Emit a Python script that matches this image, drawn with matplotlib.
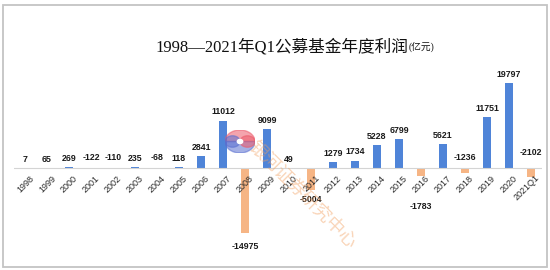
import matplotlib
matplotlib.use("Agg")
import matplotlib.pyplot as plt
from matplotlib.patches import Rectangle, Wedge, Circle

# ---- data ----
categories = ["1998", "1999", "2000", "2001", "2002", "2003", "2004", "2005",
              "2006", "2007", "2008", "2009", "2010", "2011", "2012", "2013",
              "2014", "2015", "2016", "2017", "2018", "2019", "2020", "2021Q1"]
profits = [7, 65, 269, -122, -110, 235, -68, 118,
           2841, 11012, -14975, 9099, 49, -5004, 1279, 1734,
           5228, 6799, -1783, 5621, -1236, 11751, 19797, -2102]
title_main = "1998—2021年Q1公募基金年度利润"
title_unit = "(亿元)"
watermark = "银河证券研究中心"

# ---- styling ----
pos_color = "#4f84d8"
neg_color = "#f6b585"
# label placement for negative bars: offset (points) below the bar end; others go above baseline
below_offsets = {"2008": 7, "2011": 4, "2016": 19}
above_offsets = {"2021Q1": 8}

plt.rcParams["font.family"] = ["Liberation Sans", "Noto Sans CJK SC", "DejaVu Sans"]

W, H = 550, 270
fig = plt.figure(figsize=(W / 100, H / 100), dpi=100)
fig.patch.set_facecolor("white")

# frame
fig.patches.append(Rectangle((3 / W, 3 / H), 544 / W, 262 / H, transform=fig.transFigure,
                             fill=False, edgecolor="#c4c4c4", lw=1.3))

# axes: baseline at 168 px from top, 0.00431 px per unit
left_px, right_px = 14, 542
top_px, bot_px = 72, 262
base_px, scale = 168, 0.00431
ax = fig.add_axes([left_px / W, 1 - bot_px / H, (right_px - left_px) / W, (bot_px - top_px) / H])
ax.set_xlim(-0.5, len(categories) - 0.5)
ax.set_ylim(-(bot_px - base_px) / scale, (base_px - top_px) / scale)
ax.axis("off")

x = list(range(len(categories)))
colors = [pos_color if v >= 0 else neg_color for v in profits]
ax.bar(x, profits, width=0.35, color=colors, zorder=2)
ax.axhline(0, color="#d4d4d4", lw=0.8, zorder=3)

for i, (c, v) in enumerate(zip(categories, profits)):
    lab = f"{v}"
    kw = dict(textcoords="offset points", ha="center", fontsize=6.3,
              fontweight="bold", color="#1a1a1a", zorder=4)
    if v >= 0:
        ax.annotate(lab, (i, v), xytext=(0, 3), va="bottom", **kw)
    elif c in below_offsets:
        ax.annotate(lab, (i, v), xytext=(0, -below_offsets[c]), va="top", **kw)
    else:
        ax.annotate(lab, (i, 0), xytext=(0, above_offsets.get(c, 4)), va="bottom", **kw)
    # category tick label
    ax.annotate(c, (i, 0), xytext=(3, -4), textcoords="offset points",
                rotation=45, rotation_mode="anchor", ha="right", va="top",
                fontsize=6.5, color="#2a2a2a", zorder=4)

# title
fig.text(408 / W, 1 - 51 / H, title_main, ha="right", va="baseline", fontsize=12,
         family=["Liberation Serif", "Noto Sans CJK SC"], fontweight="medium", color="#111111")
fig.text(409 / W, 1 - 51 / H, title_unit, ha="left", va="baseline", fontsize=7,
         family=["Liberation Serif", "Noto Sans CJK SC"], fontweight="medium", color="#111111")

# watermark logo
lax = fig.add_axes([225 / W, 1 - 153 / H, 30 / W, 23 / H])
lax.set_xlim(-1, 1)
lax.set_ylim(-1, 1)
lax.axis("off")
lax.add_patch(Wedge((0, 0), 1, 0, 180, color="#ec5a6a", alpha=0.55))
lax.add_patch(Wedge((0, 0), 1, 180, 360, color="#5a6fd0", alpha=0.55))
lax.add_patch(Circle((-0.5, 0), 0.5, color="#5a6fd0", alpha=0.55))
lax.add_patch(Circle((0.5, 0), 0.5, color="#ec5a6a", alpha=0.55))
lax.add_patch(Circle((0, 0), 0.18, color="white"))

# watermark text
fig.text(302 / W, 1 - 195 / H, watermark, rotation=-45, ha="center", va="center",
         fontsize=13, color="#f2a060", alpha=0.45,
         family=["Noto Sans CJK SC"], zorder=5)

fig.savefig("out.png", dpi=100)
